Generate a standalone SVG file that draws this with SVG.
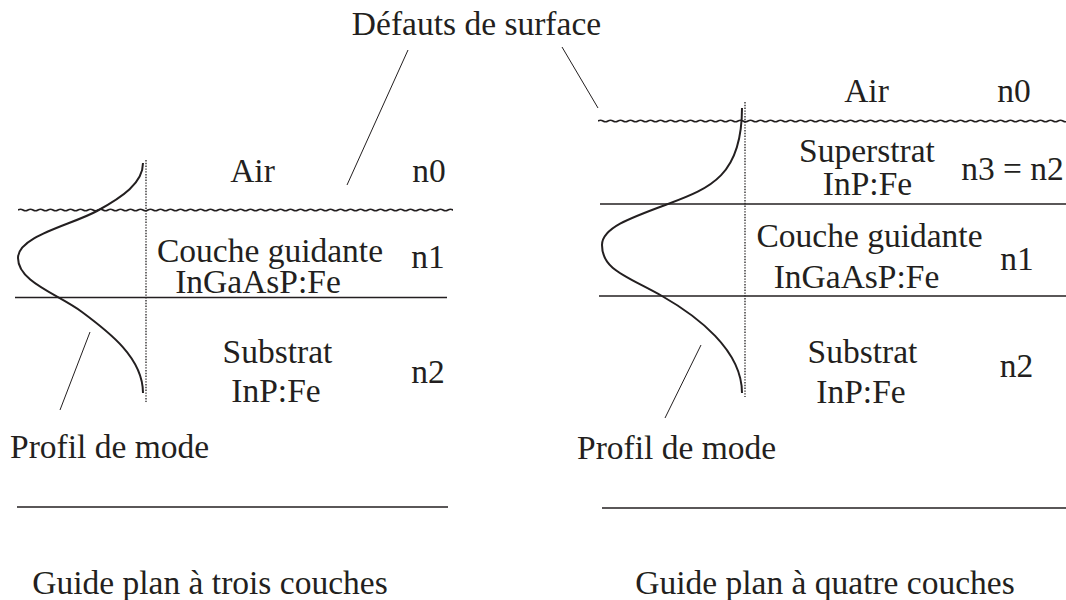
<svg xmlns="http://www.w3.org/2000/svg" width="1066" height="600" viewBox="0 0 1066 600">
<defs>
<clipPath id="clipL"><rect x="18" y="200" width="435" height="20"/></clipPath>
<clipPath id="clipR"><rect x="598" y="111" width="468" height="20"/></clipPath>
</defs>
<style>
text{font-family:"Liberation Serif","Times New Roman",serif;font-size:33.5px;fill:#231f20}
.m{text-anchor:middle}
.layer{stroke:#231f20;stroke-width:1.7;fill:none}
.wave{stroke:#231f20;stroke-width:1.6;fill:none}
.lead{stroke:#231f20;stroke-width:1;fill:none}
.mode{stroke:#231f20;stroke-width:2;fill:none}
.axis{stroke:#231f20;stroke-width:1.3;stroke-dasharray:1.4 1.4;fill:none}
</style>
<rect width="1066" height="600" fill="#fff"/>
<g id="title-defauts"><text class="m" x="476.5" y="35">Défauts de surface</text></g>
<g id="guide-trois">
  <g id="g3-layers">
    <path class="wave" clip-path="url(#clipL)" d="M18,210q2.5,-1.5 5,0t5,0t5,0t5,0t5,0t5,0t5,0t5,0t5,0t5,0t5,0t5,0t5,0t5,0t5,0t5,0t5,0t5,0t5,0t5,0t5,0t5,0t5,0t5,0t5,0t5,0t5,0t5,0t5,0t5,0t5,0t5,0t5,0t5,0t5,0t5,0t5,0t5,0t5,0t5,0t5,0t5,0t5,0t5,0t5,0t5,0t5,0t5,0t5,0t5,0t5,0t5,0t5,0t5,0t5,0t5,0t5,0t5,0t5,0t5,0t5,0t5,0t5,0t5,0t5,0t5,0t5,0t5,0t5,0t5,0t5,0t5,0t5,0t5,0t5,0t5,0t5,0t5,0t5,0t5,0t5,0t5,0t5,0t5,0t5,0t5,0t5,0t5,0t5,0t5,0t5,0t5,0t5,0t5,0t5,0t5,0t5,0t5,0t5,0t5,0t5,0"/>
    <line class="layer" x1="15" y1="297.5" x2="447" y2="297.5"/>
    <line class="layer" x1="17" y1="507" x2="448" y2="507"/>
  </g>
  <g id="g3-mode">
    <line class="axis" x1="146" y1="160" x2="146" y2="402"/>
    <path class="mode" d="M143,163C143,183 122.6,197 97,211C71.4,225 18,236 18,258C18,282 57.7,294 82,312C109,332 143,358 143,393"/>
  </g>
  <g id="g3-air"><text class="m" x="252.5" y="182">Air</text><text class="m" x="429" y="182">n0</text></g>
  <g id="g3-couche"><text class="m" x="270" y="262">Couche guidante</text><text class="m" x="258" y="293">InGaAsP:Fe</text><text class="m" x="428" y="268">n1</text></g>
  <g id="g3-substrat"><text class="m" x="277.5" y="363">Substrat</text><text class="m" x="276" y="402">InP:Fe</text><text class="m" x="428" y="383">n2</text></g>
  <g id="g3-profil"><text x="10" y="458">Profil de mode</text></g>
  <g id="g3-caption"><text class="m" x="210" y="594">Guide plan à trois couches</text></g>
</g>
<g id="guide-quatre">
  <g id="g4-layers">
    <path class="wave" clip-path="url(#clipR)" d="M598,121q2.5,-1.5 5,0t5,0t5,0t5,0t5,0t5,0t5,0t5,0t5,0t5,0t5,0t5,0t5,0t5,0t5,0t5,0t5,0t5,0t5,0t5,0t5,0t5,0t5,0t5,0t5,0t5,0t5,0t5,0t5,0t5,0t5,0t5,0t5,0t5,0t5,0t5,0t5,0t5,0t5,0t5,0t5,0t5,0t5,0t5,0t5,0t5,0t5,0t5,0t5,0t5,0t5,0t5,0t5,0t5,0t5,0t5,0t5,0t5,0t5,0t5,0t5,0t5,0t5,0t5,0t5,0t5,0t5,0t5,0t5,0t5,0t5,0t5,0t5,0t5,0t5,0t5,0t5,0t5,0t5,0t5,0t5,0t5,0t5,0t5,0t5,0t5,0t5,0t5,0t5,0t5,0t5,0t5,0t5,0t5,0t5,0t5,0t5,0t5,0t5,0t5,0t5,0t5,0t5,0t5,0t5,0t5,0t5,0t5,0t5,0t5,0t5,0t5,0t5,0"/>
    <line class="layer" x1="600" y1="204" x2="1066" y2="204"/>
    <line class="layer" x1="599" y1="296" x2="1066" y2="296"/>
    <line class="layer" x1="602" y1="508" x2="1066" y2="508"/>
  </g>
  <g id="g4-mode">
    <line class="axis" x1="745" y1="102" x2="745" y2="397"/>
    <path class="mode" d="M742,108C742,175 711,188 668,204C630,218 602,228 602,245C602,270 626.6,276 662,296C697,316 742,350 742,393"/>
  </g>
  <g id="g4-air"><text class="m" x="866.5" y="102">Air</text><text class="m" x="1014" y="102">n0</text></g>
  <g id="g4-superstrat"><text class="m" x="867" y="162">Superstrat</text><text class="m" x="867.5" y="195">InP:Fe</text><text class="m" x="1012.5" y="180">n3 = n2</text></g>
  <g id="g4-couche"><text class="m" x="869.5" y="247">Couche guidante</text><text class="m" x="856.5" y="288">InGaAsP:Fe</text><text class="m" x="1017" y="270">n1</text></g>
  <g id="g4-substrat"><text class="m" x="862.5" y="363">Substrat</text><text class="m" x="861" y="403">InP:Fe</text><text class="m" x="1016.5" y="377">n2</text></g>
  <g id="g4-profil"><text x="577" y="459">Profil de mode</text></g>
  <g id="g4-caption"><text class="m" x="825" y="594">Guide plan à quatre couches</text></g>
</g>
<g id="connectors">
  <line class="lead" x1="408" y1="50" x2="347" y2="185"/>
  <line class="lead" x1="562" y1="47" x2="598" y2="108"/>
  <line class="lead" x1="90" y1="332" x2="60" y2="410"/>
  <line class="lead" x1="701" y1="345" x2="665" y2="418"/>
</g>
</svg>
